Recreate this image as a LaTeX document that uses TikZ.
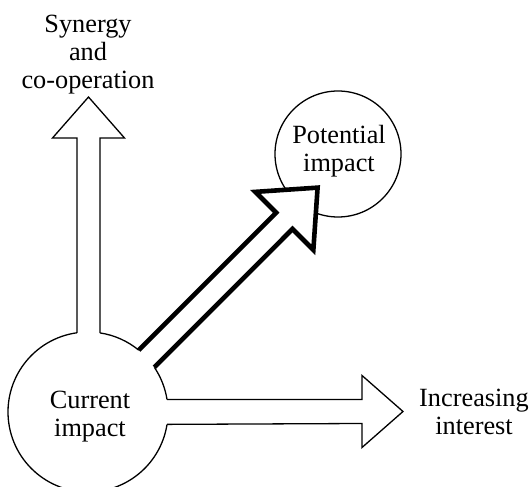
\documentclass[tikz,border=0pt]{standalone}
\usepackage{fontspec}
\setmainfont{Liberation Serif}
\usetikzlibrary{calc}
\begin{document}
\begin{tikzpicture}[x=1pt,y=1pt,
  outl/.style={line width=1.3pt, line join=miter, fill=white},
  boldarrow/.style={line width=4.6pt, line join=miter, miter limit=10, fill=white},
  ring/.style={line width=1.3pt},
  lbl/.style={font=\fontsize{26.3}{28}\selectfont, align=center, inner sep=0pt, anchor=base}]
\useasboundingbox[fill=white] (0,0) rectangle (530,487);
% circles (as coordinates for geometry)
\coordinate (cur) at (88,75);
\coordinate (pot) at (338,333);
% potential impact circle
\draw[ring] (pot) circle[radius=63];
% current impact circle with openings
\draw[ring] ($(cur)+(9:80)$) arc[start angle=9, end angle=34, radius=80];
\draw[ring] ($(cur)+(50.6:80)$) arc[start angle=50.6, end angle=81.4, radius=80];
\draw[ring] ($(cur)+(97.9:80)$) arc[start angle=97.9, end angle=351.1, radius=80];
% vertical arrow
\draw[outl] ($(cur)+(97.9:80)$) -- (77,349) -- (52.5,349) -- (88.5,390) -- (124.5,349) -- (100,349) -- ($(cur)+(81.4:80)$);
% horizontal arrow
\draw[outl] ($(cur)+(9:80)$) -- (362,87.5) -- (362,111.5) -- (403,75.5) -- (362,39.5) -- (362,63.5) -- ($(cur)+(-8.9:80)$);
% diagonal bold arrow
\draw[boldarrow] ($(cur)+(50.6:80)$)
  -- ($(cur)+(45:274)+(-45:-7.8)$)
  -- ($(cur)+(45:274)+(-45:-37.3)$)
  -- ($(cur)+(45:321)+(-45:3.7)$)
  -- ($(cur)+(45:274)+(-45:44.7)$)
  -- ($(cur)+(45:274)+(-45:15.2)$)
  -- ($(cur)+(34:80)$);
% labels (anchor base = baseline of last line)
\node[lbl] (syn) at (88,398) {Synergy\\and\\co-operation};
\node[lbl] (potl) at (339,315) {Potential\\impact};
\node[lbl] (curl) at (90,50) {Current\\impact};
\node[lbl] (inc) at (474,52) {Increasing\\interest};
\end{tikzpicture}
\end{document}
